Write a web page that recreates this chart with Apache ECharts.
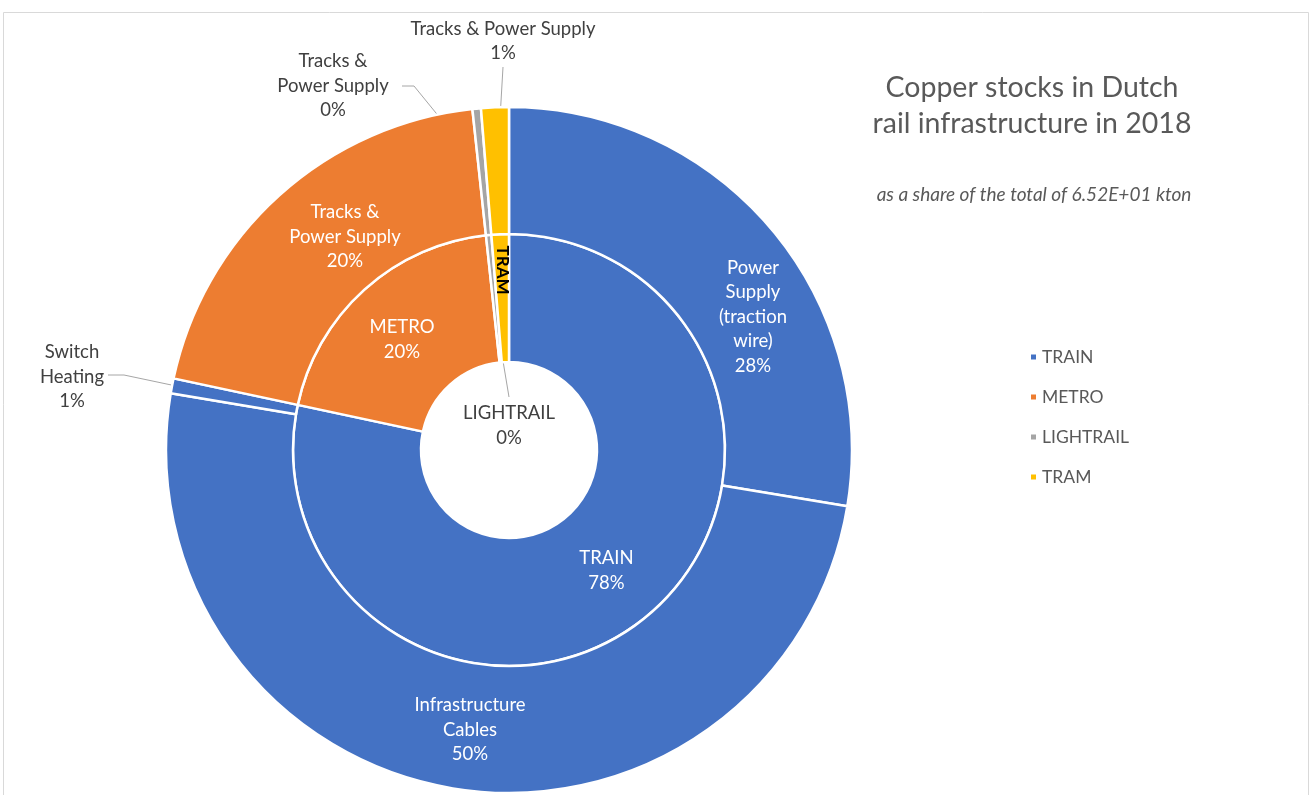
<!DOCTYPE html>
<html>
<head>
<meta charset="utf-8">
<title>Copper stocks in Dutch rail infrastructure in 2018</title>
<script src="https://cdn.jsdelivr.net/npm/echarts@6/dist/echarts.min.js"></script>
<style>
  html, body { margin: 0; padding: 0; background: #ffffff; }
  #chart { width: 1313px; height: 795px; }
</style>
</head>
<body>
<div id="chart"></div>
<script>
// Copper stock per modality (kton), split by infrastructure component
const categories = ['TRAIN', 'METRO', 'LIGHTRAIL', 'TRAM'];
const trainParts = ['Power Supply (traction wire)', 'Infrastructure Cables', 'Switch Heating'];
const trainValues = [18.0, 32.6, 0.46];
const metroParts = ['Tracks & Power Supply'];
const metroValues = [13.0];
const lightrailParts = ['Tracks & Power Supply'];
const lightrailValues = [0.26];
const tramParts = ['Tracks & Power Supply'];
const tramValues = [0.85];
const titleText = 'Copper stocks in Dutch\nrail infrastructure in 2018';
const subtitleText = 'as a share of the total of 6.52E+01 kton';

const FONT = 'Lato, "Open Sans", sans-serif';
const TEXT_DARK = '#404040';
const LABEL_SIZE = 18.5;
const palette = { TRAIN: '#4472C4', METRO: '#ED7D31', LIGHTRAIL: '#A5A5A5', TRAM: '#FFC000' };

const groups = [
  { cat: 'TRAIN', parts: trainParts, values: trainValues },
  { cat: 'METRO', parts: metroParts, values: metroValues },
  { cat: 'LIGHTRAIL', parts: lightrailParts, values: lightrailValues },
  { cat: 'TRAM', parts: tramParts, values: tramValues }
];

const sum = arr => arr.reduce((a, b) => a + b, 0);

// inner ring: one slice per modality, the total of its components
const innerData = groups.map(g => ({
  name: g.cat,
  value: sum(g.values),
  itemStyle: { color: palette[g.cat] }
}));

// outer ring: the components, coloured by modality
const outerData = [];
groups.forEach(g => {
  g.parts.forEach((p, i) => {
    outerData.push({ name: p, value: g.values[i], itemStyle: { color: palette[g.cat] } });
  });
});

// line breaks used when a component name is printed on the chart
const wrapped = {
  'Power Supply (traction wire)': 'Power\nSupply\n(traction\nwire)',
  'Infrastructure Cables': 'Infrastructure\nCables',
  'Switch Heating': 'Switch\nHeating'
};
const outerIdx = { power: 0, cables: 1, switchHeating: 2, metro: 3, lightrail: 4, tram: 5 };

const pct = p => Math.round(p.percent) + '%';

// outer labels that sit outside the ring get dark text and a leader line
outerData.forEach((d, i) => {
  if (i === outerIdx.switchHeating || i === outerIdx.lightrail || i === outerIdx.tram) {
    d.label = { position: 'outside', color: TEXT_DARK };
    d.labelLine = { show: true };
  }
});
innerData[2].label = { position: 'outside', color: TEXT_DARK };
innerData[2].labelLine = { show: true };
innerData[3].label = { color: '#000000', fontWeight: 'bold', fontSize: 17 };

const CX = 509, CY = 450;

const chart = echarts.init(document.getElementById('chart'), null, { renderer: 'canvas' });

chart.setOption({
  backgroundColor: '#ffffff',
  animation: false,
  textStyle: { fontFamily: FONT },
  graphic: [{
    type: 'rect',
    silent: true,
    shape: { x: 3.5, y: 12.5, width: 1305, height: 800 },
    style: { fill: 'none', stroke: '#d9d9d9', lineWidth: 1 }
  }],
  title: [{
    text: titleText,
    left: 1027,
    top: 65,
    textAlign: 'center',
    textStyle: { fontFamily: FONT, fontSize: 28.5, fontWeight: 'normal', color: '#595959', lineHeight: 36 }
  }, {
    text: subtitleText,
    left: 1029,
    top: 180,
    textAlign: 'center',
    textStyle: { fontFamily: FONT, fontSize: 19, fontStyle: 'italic', fontWeight: 'normal', color: '#595959' }
  }],
  legend: {
    data: categories,
    orient: 'vertical',
    left: 1024,
    top: 342,
    icon: 'rect',
    itemWidth: 7,
    itemHeight: 7,
    itemGap: 20,
    selectedMode: false,
    textStyle: { fontFamily: FONT, fontSize: 17.5, color: '#595959', lineHeight: 20 }
  },
  series: [{
    name: 'Modality',
    type: 'pie',
    center: [CX, CY],
    radius: [88, 216],
    startAngle: 90,
    clockwise: true,
    avoidLabelOverlap: false,
    silent: true,
    itemStyle: { borderColor: '#ffffff', borderWidth: 2.5 },
    label: {
      show: true,
      position: 'inside',
      color: '#ffffff',
      fontFamily: FONT,
      fontSize: LABEL_SIZE,
      lineHeight: 25,
      align: 'center',
      formatter: p => p.dataIndex === 3 ? p.name : p.name + '\n' + pct(p)
    },
    labelLine: { show: false, lineStyle: { color: '#a6a6a6', width: 1 } },
    labelLayout: p => {
      if (p.dataIndex === 1) {
        return { x: CX - 107, y: CY - 110, align: 'center', verticalAlign: 'middle' };
      }
      if (p.dataIndex === 2) {
        return {
          x: CX, y: CY - 24, align: 'center', verticalAlign: 'middle',
          labelLinePoints: [[CX - 12, CY - 125], [CX, CY - 53], [CX, CY - 53]]
        };
      }
      if (p.dataIndex === 3) {
        return { x: CX - 7, y: CY - 180, align: 'center', verticalAlign: 'middle', rotate: -90 };
      }
      return {};
    },
    data: innerData
  }, {
    name: 'Component',
    type: 'pie',
    center: [CX, CY],
    radius: [216, 343],
    startAngle: 90,
    clockwise: true,
    avoidLabelOverlap: false,
    silent: true,
    itemStyle: { borderColor: '#ffffff', borderWidth: 2.5 },
    label: {
      show: true,
      position: 'inside',
      color: '#ffffff',
      fontFamily: FONT,
      fontSize: LABEL_SIZE,
      lineHeight: 24.5,
      align: 'center',
      formatter: p => {
        const base = wrapped[p.name] || (p.dataIndex === outerIdx.tram ? p.name : 'Tracks &\nPower Supply');
        return base + '\n' + pct(p);
      }
    },
    labelLine: { show: false, lineStyle: { color: '#a6a6a6', width: 1 } },
    labelLayout: p => {
      const i = p.dataIndex;
      if (i === outerIdx.power) {
        return { x: CX + 244, y: CY - 133, align: 'center', verticalAlign: 'middle' };
      }
      if (i === outerIdx.cables) {
        return { x: CX - 39, y: CY + 280, align: 'center', verticalAlign: 'middle' };
      }
      if (i === outerIdx.metro) {
        return { x: CX - 164, y: CY - 213, align: 'center', verticalAlign: 'middle' };
      }
      if (i === outerIdx.switchHeating) {
        return {
          x: 72, y: 377, align: 'center', verticalAlign: 'middle',
          labelLinePoints: [[233, 398], [124, 375], [108, 375]]
        };
      }
      if (i === outerIdx.lightrail) {
        return {
          x: 333, y: 86, align: 'center', verticalAlign: 'middle',
          labelLinePoints: [[480, 167], [414, 86], [402, 86]]
        };
      }
      if (i === outerIdx.tram) {
        return {
          x: 503, y: 41, align: 'center', verticalAlign: 'middle',
          labelLinePoints: [[497, 170], [503, 67], [503, 67]]
        };
      }
      return {};
    },
    data: outerData
  }]
});
</script>
</body>
</html>
